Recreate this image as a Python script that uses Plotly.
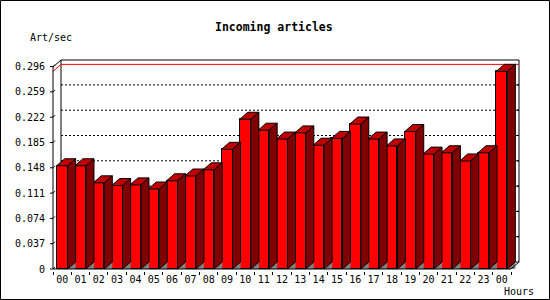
import plotly.graph_objects as go

# ---------------- data ----------------
hours = ["00", "01", "02", "03", "04", "05", "06", "07", "08", "09", "10", "11",
         "12", "13", "14", "15", "16", "17", "18", "19", "20", "21", "22", "23", "00"]
rates = [0.151, 0.151, 0.126, 0.122, 0.123, 0.117, 0.129, 0.136, 0.145, 0.175,
         0.219, 0.203, 0.190, 0.199, 0.181, 0.191, 0.212, 0.190, 0.180, 0.201,
         0.168, 0.170, 0.158, 0.170, 0.289]
y_ticks = [0, 0.037, 0.074, 0.111, 0.148, 0.185, 0.222, 0.259, 0.296]
y_tick_text = ["0", "0.037", "0.074", "0.111", "0.148", "0.185", "0.222", "0.259", "0.296"]
title_text = "Incoming articles"
y_title = "Art/sec"
x_title = "Hours"

# ---------------- geometry (pixels -> axis units) ----------------
S = 18.32      # px per category slot
K = 683.8      # px per value unit
PL, PR, PT, PB = 50, 523, 57, 271
W, H = 550, 300


def xv(px):
    return -0.5 + (px - 53) / S


def yv(py):
    return (269 - py) / K


def xp(px):
    return (px - PL) / (PR - PL)


def yp(py):
    return (PB - py) / (PB - PT)


ddx = 8 / S
ddy = 7 / K
hw = 0.3  # half bar width (category units)
pos = list(range(len(rates)))
n = len(rates)

MONO = "DejaVu Sans Mono"

fig = go.Figure()

# front faces
fig.add_trace(go.Bar(x=pos, y=rates, width=2 * hw, base=0,
                     marker=dict(color="#FF0000", line=dict(color="black", width=1)),
                     hoverinfo="skip", showlegend=False))

# top, side and floor-shadow faces
tx, ty, sx, sy, gx, gy = [], [], [], [], [], []
for p, v in zip(pos, rates):
    l, r = p - hw, p + hw
    tx += [l, r, r + ddx, l + ddx, l, None]
    ty += [v, v, v + ddy, v + ddy, v, None]
    sx += [r, r + ddx, r + ddx, r, r, None]
    sy += [v, v + ddy, ddy, 0, v, None]
    gx += [r, r + ddx, r + ddx, r, None]
    gy += [0, ddy, 0, 0, None]

fig.add_trace(go.Scatter(x=gx, y=gy, mode="lines", fill="toself", fillcolor="#808080",
                         line=dict(width=0, color="#808080"), hoverinfo="skip", showlegend=False))
fig.add_trace(go.Scatter(x=tx, y=ty, mode="lines", fill="toself", fillcolor="#C00000",
                         line=dict(width=1, color="black"), hoverinfo="skip", showlegend=False))
fig.add_trace(go.Scatter(x=sx, y=sy, mode="lines", fill="toself", fillcolor="#800000",
                         line=dict(width=1, color="black"), hoverinfo="skip", showlegend=False))

shapes = []
wall_l, wall_r = -0.5 + ddx, (n - 0.5) + ddx
wall_top = yv(60)
# back wall
shapes.append(dict(type="rect", xref="x", yref="y", x0=wall_l, x1=wall_r, y0=ddy, y1=wall_top,
                   line=dict(color="black", width=1), fillcolor="white", layer="below"))
# dotted grid on back wall + right-edge ticks
for v in y_ticks[1:-1]:
    shapes.append(dict(type="line", xref="x", yref="y", x0=wall_l, x1=wall_r, y0=v + ddy, y1=v + ddy,
                       line=dict(color="black", width=1, dash="2px,2px"), layer="below"))
    shapes.append(dict(type="line", xref="x", yref="y", x0=wall_r - 3 / S, x1=wall_r, y0=v + ddy, y1=v + ddy,
                       line=dict(color="black", width=1), layer="below"))
# max line (red)
vmax = max(rates)
shapes.append(dict(type="line", xref="x", yref="y", x0=wall_l, x1=wall_r, y0=vmax + ddy, y1=vmax + ddy,
                   line=dict(color="#FF0000", width=1), layer="below"))
shapes.append(dict(type="line", xref="x", yref="y", x0=-0.5, x1=wall_l, y0=vmax, y1=vmax + ddy,
                   line=dict(color="#FF0000", width=1), layer="above"))
# front left axis + diagonal to wall corner
front_top = wall_top - ddy
shapes.append(dict(type="path", xref="x", yref="y",
                   path=f"M {-0.5} 0 L {-0.5} {front_top} L {wall_l} {wall_top}",
                   line=dict(color="black", width=1), layer="above"))
# bottom front axis + right diagonal
shapes.append(dict(type="path", xref="x", yref="y",
                   path=f"M {-0.5} 0 L {n - 0.5} 0 L {wall_r} {ddy}",
                   line=dict(color="black", width=1), layer="above"))
# left ticks
for v in y_ticks:
    shapes.append(dict(type="line", xref="x", yref="y", x0=xv(PL), x1=-0.5, y0=v, y1=v,
                       line=dict(color="black", width=1), layer="above"))
    shapes.append(dict(type="line", xref="x", yref="y", x0=-0.5, x1=-0.5 + 2 / S, y0=v, y1=v + 2 / K,
                       line=dict(color="black", width=1), layer="above"))
# outer border
shapes.append(dict(type="rect", xref="paper", yref="paper", x0=xp(0.5), x1=xp(W - 0.5),
                   y0=yp(H - 0.5), y1=yp(0.5), line=dict(color="black", width=1),
                   fillcolor="rgba(0,0,0,0)", layer="above"))

annotations = [
    dict(text=title_text, xref="paper", yref="paper", x=xp(274), y=yp(27.3), showarrow=False,
         xanchor="center", yanchor="middle", font=dict(family=MONO, size=11.5, color="black", weight="bold")),
    dict(text=y_title, xref="paper", yref="paper", x=xp(50.5), y=yp(37.3), showarrow=False,
         xanchor="center", yanchor="middle", font=dict(family=MONO, size=10, color="black")),
    dict(text=x_title, xref="paper", yref="paper", x=xp(519), y=yp(291.7), showarrow=False,
         xanchor="center", yanchor="middle", font=dict(family=MONO, size=10, color="black")),
]

fig.update_layout(
    width=W, height=H,
    margin=dict(l=PL, r=W - PR, t=PT, b=H - PB, pad=0),
    paper_bgcolor="white", plot_bgcolor="white",
    showlegend=False, bargap=0,
    shapes=shapes, annotations=annotations,
    xaxis=dict(range=[xv(PL), xv(PR)], tickmode="array", tickvals=pos, ticktext=hours,
               ticks="", showgrid=False, zeroline=False, showline=False, ticklabelstandoff=1,
               tickfont=dict(family=MONO, size=10, color="black"),
               minor=dict(tickmode="linear", tick0=-0.5, dtick=1, ticks="outside", ticklen=3,
                          tickcolor="black", tickwidth=1, showgrid=False)),
    yaxis=dict(range=[yv(PB), yv(PT)], tickmode="array", tickvals=y_ticks, ticktext=y_tick_text,
               ticks="", showgrid=False, zeroline=False, showline=False, ticklabelstandoff=4,
               tickfont=dict(family=MONO, size=10, color="black")),
)

fig.write_html("out.html")
